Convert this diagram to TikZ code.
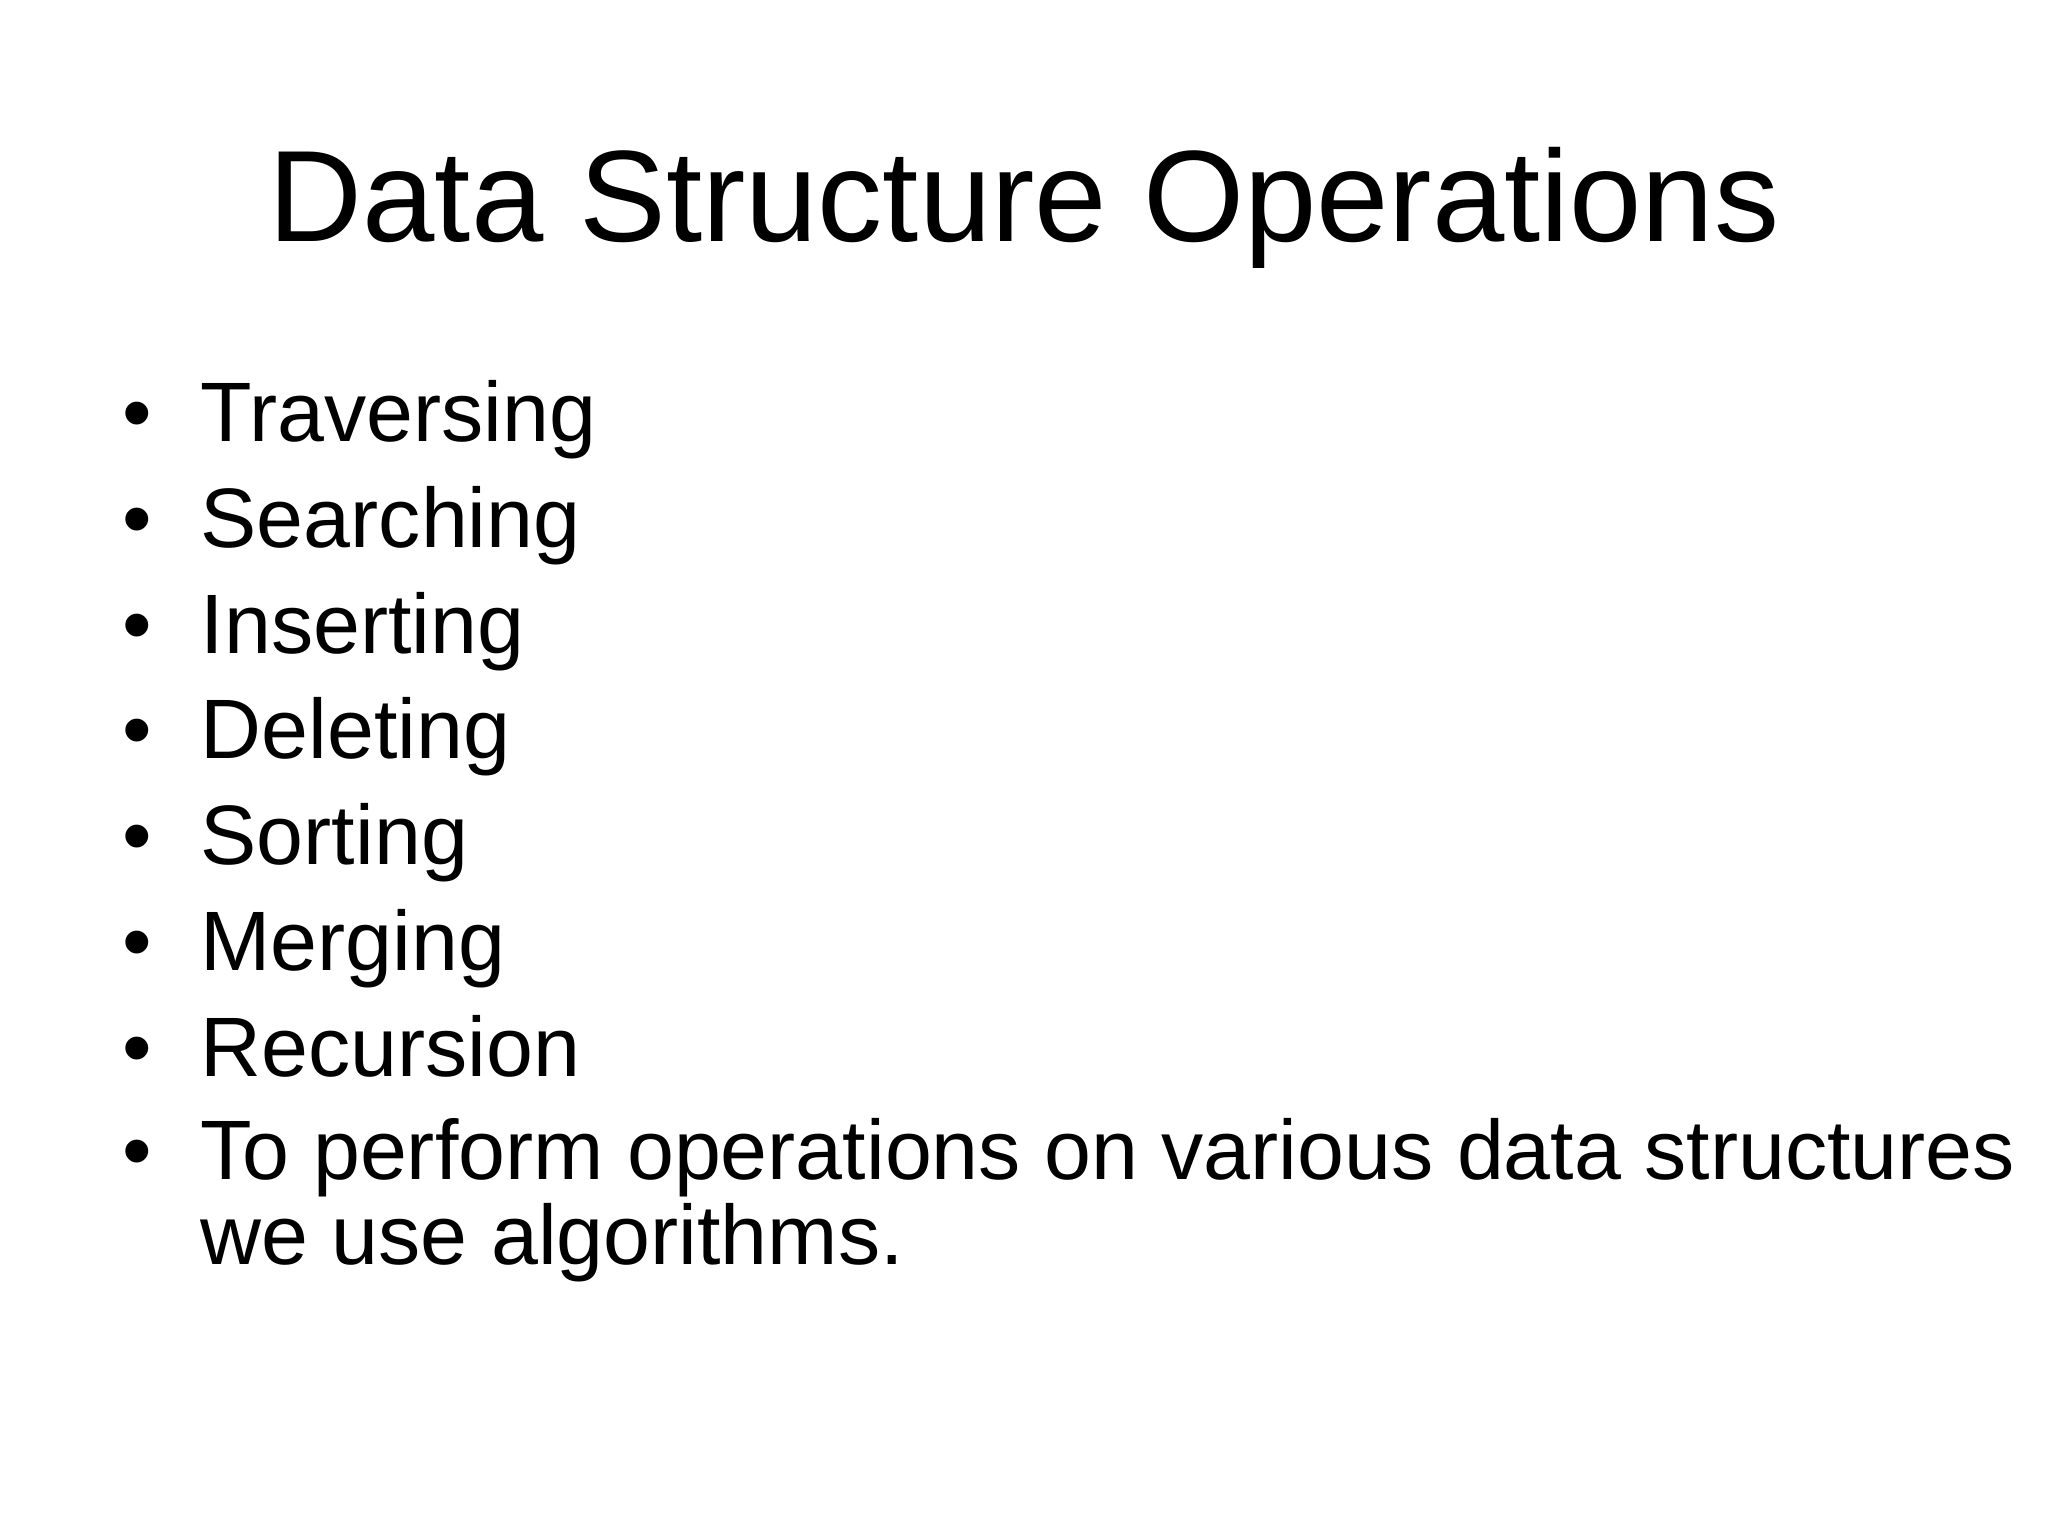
\documentclass[tikz,border=0pt]{standalone}
\usepackage{fontspec}
\setmainfont{Liberation Sans}
\begin{document}
\begin{tikzpicture}[x=1cm,y=1cm,
  itm/.style={anchor=base west,inner sep=0pt,font=\fontsize{24pt}{29pt}\selectfont},
  ttl/.style={anchor=base,inner sep=0pt,font=\fontsize{37pt}{44pt}\selectfont}]
\useasboundingbox[fill=white] (0,0) rectangle (20.48,-15.36);
\node[ttl] (title) at (10.24,-2.416) {Data Structure Operations};
\foreach \t [count=\i] in {Traversing,Searching,Inserting,Deleting,Sorting,Merging,Recursion}{
  \node[itm] (b\i) at (1.22,{-4.414-1.058*(\i-1)}) {•};
  \node[itm] (t\i) at (2.0,{-4.414-1.058*(\i-1)}) {\t};
}
\node[itm] (b8) at (1.22,-11.79) {•};
\node[itm] (t8) at (2.0,-11.79) {To perform operations on various data structures};
\node[itm] (t9) at (2.0,-12.64) {we use algorithms.};
\end{tikzpicture}
\end{document}
